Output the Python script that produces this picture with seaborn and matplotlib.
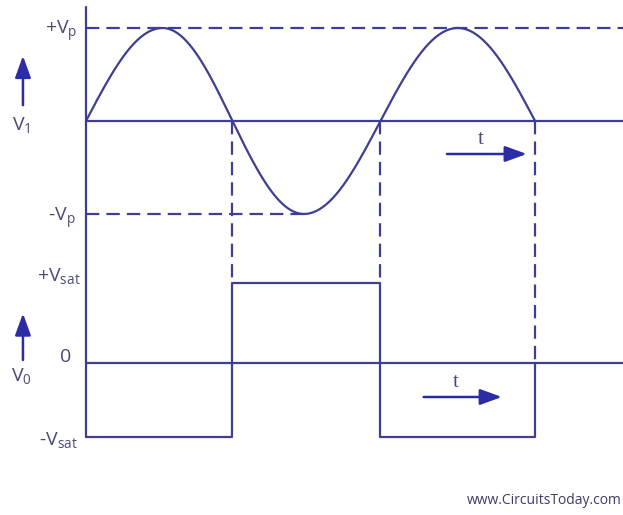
import numpy as np
import pandas as pd
import matplotlib
matplotlib.use("Agg")
import matplotlib.pyplot as plt
import seaborn as sns

sns.set_theme(style="white")
plt.rcParams["font.family"] = ["Open Sans", "DejaVu Sans"]
plt.rcParams["mathtext.fontset"] = "custom"

# colours
LINE = "#3e3e92"
ARROW = "#2c2ca6"
TEXT = "#4a4a78"

# ---- data (phase in degrees, voltages in diagram units) ----
vp = 1.0            # input peak
vsat_pos = 0.86     # output +Vsat
vsat_neg = -0.80    # output -Vsat
vo_offset = -2.60   # where the output trace's zero line sits

# input sine, drawn over three half cycles
phase = np.arange(0, 541, 2)
v_in = vp * np.sin(np.radians(phase))

# output square wave corners (zero crossing detector)
sq_phase = [0, 176, 176, 354, 354, 540, 540]
sq_level = [vsat_neg, vsat_neg, vsat_pos, vsat_pos, vsat_neg, vsat_neg, 0.0]

crossings = [176, 354, 540]
cross_stop = [vsat_pos, vsat_pos, 0.0]   # where each dashed drop line meets the output

x_min, x_max = -103.4, 645.7
y_min, y_max = -4.237, 1.301

# the drawn sine is slightly uneven: stretch each quarter to the crossings
warp_in = [0, 90, 180, 270, 360, 450, 540]
warp_out = [0, 92, 176, 262, 354, 447, 540]
df_in = pd.DataFrame({"phase": np.interp(phase, warp_in, warp_out), "v": v_in})
df_out = pd.DataFrame({"phase": sq_phase, "v": np.array(sq_level) + vo_offset})

fig = plt.figure(figsize=(6.23, 5.15), dpi=100)
ax = fig.add_axes([0, 0, 1, 1])

lw = 1.6
dash = (0, (6, 3.2))

# sine and square wave
sns.lineplot(data=df_in, x="phase", y="v", ax=ax, color=LINE, lw=lw,
             sort=False, estimator=None)
sns.lineplot(data=df_out, x="phase", y="v", ax=ax, color=LINE, lw=lw,
             sort=False, estimator=None)

# vertical axis and zero lines
ax.plot([0, 0], [1.23, vsat_neg + vo_offset], color=LINE, lw=lw)
ax.plot([0, x_max], [0, 0], color=LINE, lw=lw)
ax.plot([0, x_max], [vo_offset, vo_offset], color=LINE, lw=lw)

# dashed guide lines
ax.plot([0, x_max], [vp, vp], color=LINE, lw=lw, ls=dash)
ax.plot([0, 262], [-vp, -vp], color=LINE, lw=lw, ls=dash)
for xc, stop in zip(crossings, cross_stop):
    ax.plot([xc, xc], [0, stop + vo_offset], color=LINE, lw=lw, ls=dash)

# direction arrows
arrow_kw = dict(arrowstyle="-|>,head_length=1.1,head_width=0.4", color=ARROW, lw=1.8,
                shrinkA=0, shrinkB=0)
ax.annotate("", xy=(-75.8, 0.70), xytext=(-75.8, 0.17), arrowprops=arrow_kw)
ax.annotate("", xy=(-75.8, -2.07), xytext=(-75.8, -2.57), arrowprops=arrow_kw)
ax.annotate("", xy=(530, -0.355), xytext=(434, -0.355), arrowprops=arrow_kw)
ax.annotate("", xy=(500, -2.968), xytext=(406, -2.968), arrowprops=arrow_kw)

# labels
fs = 14
ax.text(-10, vp - 0.03, r"+V$_\mathregular{p}$", color=TEXT, fontsize=fs, ha="right", va="center")
ax.text(-12, -vp - 0.05, r"-V$_\mathregular{p}$", color=TEXT, fontsize=fs, ha="right", va="center")
ax.text(-78, -0.05, r"V$_\mathregular{1}$", color=TEXT, fontsize=fs, ha="center", va="center")
ax.text(-6, vsat_pos + vo_offset + 0.06, r"+V$_\mathregular{sat}$", color=TEXT, fontsize=fs,
        ha="right", va="center")
ax.text(-10, vsat_neg + vo_offset - 0.04, r"-V$_\mathregular{sat}$", color=TEXT, fontsize=fs,
        ha="right", va="center")
ax.text(-78, vo_offset - 0.15, r"V$_\mathregular{0}$", color=TEXT, fontsize=fs, ha="center", va="center")
ax.text(-24, vo_offset + 0.06, "0", color=TEXT, fontsize=fs, ha="center", va="center")

ax.text(474, -0.20, "t", color=TEXT, fontsize=15, ha="center", va="center",
        family="Liberation Serif")
ax.text(444, -2.81, "t", color=TEXT, fontsize=15, ha="center", va="center",
        family="Liberation Serif")

ax.text(644, -4.08, "www.CircuitsToday.com", color="#3c3c6a", fontsize=10,
        ha="right", va="center")

ax.set_xlim(x_min, x_max)
ax.set_ylim(y_min, y_max)
ax.set_axis_off()

fig.savefig("out.png", dpi=100)
